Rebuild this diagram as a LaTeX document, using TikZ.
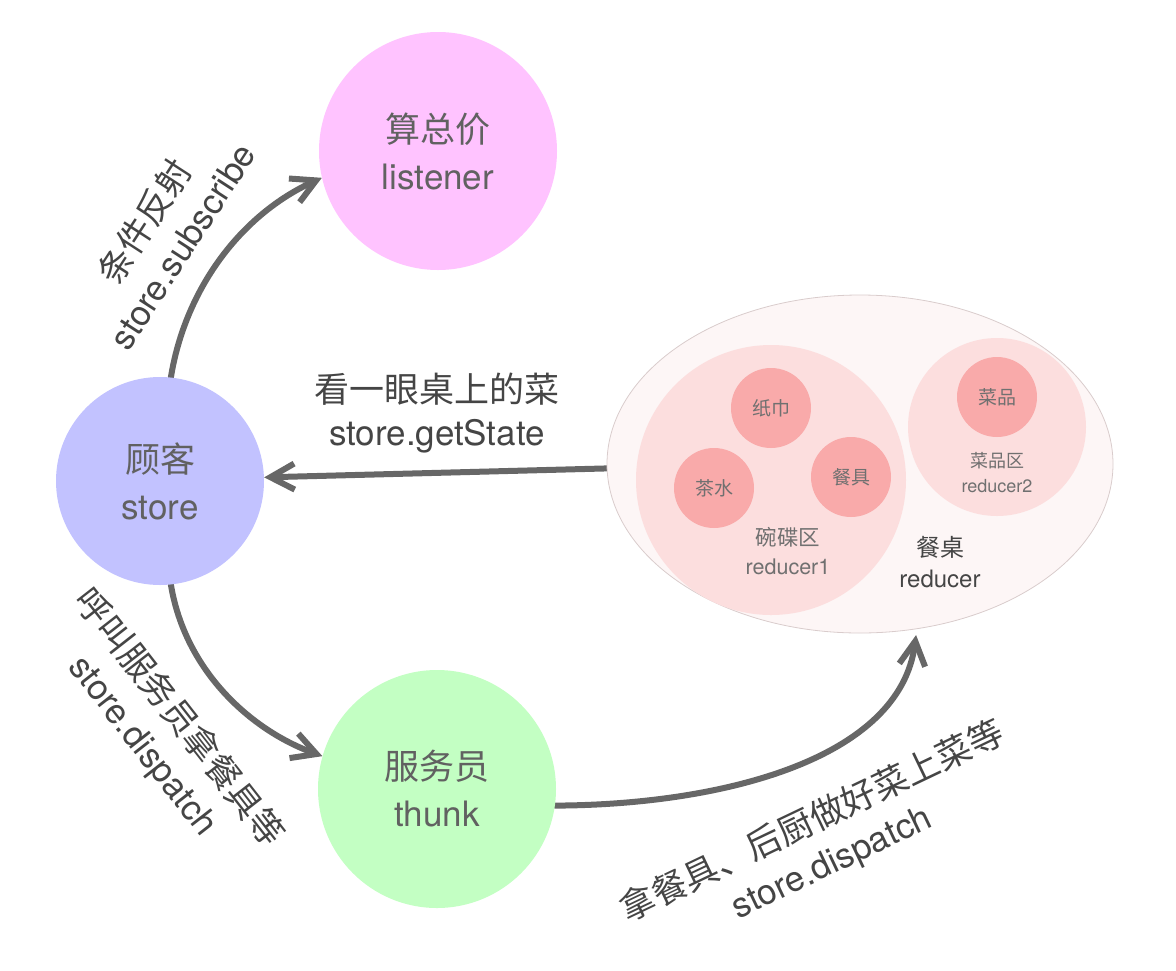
\documentclass[tikz,border=0pt]{standalone}
\usepackage{fontspec}
\setmainfont{TeX Gyre Heros}
\newfontfamily\cjk{Noto Sans CJK SC}
\usetikzlibrary{arrows.meta}
\usetikzlibrary{shapes.geometric}
\pgfdeclarelayer{edgelayer}
\pgfdeclarelayer{nodelayer}
\pgfsetlayers{edgelayer,nodelayer,main}
\definecolor{listenerfill}{HTML}{FFC3FF}
\definecolor{storefill}{HTML}{C2C2FF}
\definecolor{thunkfill}{HTML}{C3FFC3}
\definecolor{tablefill}{HTML}{FDF6F6}
\definecolor{tableline}{HTML}{D9CCCC}
\definecolor{zonefill}{HTML}{FCDEDE}
\definecolor{dishfill}{HTML}{F9AAAA}
\definecolor{roletext}{HTML}{616161}
\definecolor{labeltext}{HTML}{454545}
\definecolor{dishtext}{HTML}{707070}
\definecolor{arrowgray}{HTML}{676767}
\tikzstyle{role}=[circle,inner sep=0pt,minimum size=238pt,align=center,text=roletext,font=\fontsize{35}{47}\selectfont]
\tikzstyle{tablezone}=[ellipse,inner sep=0pt,minimum width=506pt,minimum height=338pt,fill=tablefill,draw=tableline,line width=0.8pt]
\tikzstyle{zone}=[circle,inner sep=0pt,fill=zonefill]
\tikzstyle{dish}=[circle,inner sep=0pt,minimum size=80pt,fill=dishfill,text=dishtext,font=\cjk\fontsize{19}{22}\selectfont]
\tikzstyle{zonename}=[align=center,text=dishtext]
\tikzstyle{caption}=[align=center,text=labeltext,font=\fontsize{35}{45}\selectfont]
\tikzstyle{transition}=[-{Straight Barb[length=24pt,width=26pt]},line width=6pt,draw=arrowgray,line cap=round]

\begin{document}
\begin{tikzpicture}[x=1pt,y=1pt]
	\useasboundingbox (0,0) rectangle (1176,-970);
	\begin{pgfonlayer}{nodelayer}
		\node [style=role, fill=listenerfill] (0) at (438, -151) {{\cjk 算总价}\\listener};
		\node [style=role, fill=storefill, minimum size=208pt] (1) at (160, -481) {{\cjk 顾客}\\store};
		\node [style=role, fill=thunkfill] (2) at (437, -789) {{\cjk 服务员}\\thunk};
		\node [style=tablezone] (3) at (860, -464) {};
		\node [style=zone, minimum size=270pt] (4) at (771, -480) {};
		\node [style=zone, minimum size=178pt] (5) at (997, -427) {};
		\node [style=dish] (6) at (771, -408) {纸巾};
		\node [style=dish] (7) at (714, -488) {茶水};
		\node [style=dish] (8) at (851, -477) {餐具};
		\node [style=dish] (9) at (997, -397) {菜品};
		\node [style=zonename, font=\fontsize{21.5}{29}\selectfont] (10) at (788, -551) {{\cjk 碗碟区}\\reducer1};
		\node [style=zonename, font=\fontsize{18}{25}\selectfont] (11) at (997, -473) {{\cjk 菜品区}\\reducer2};
		\node [style=zonename, text=labeltext, font=\fontsize{24}{31}\selectfont] (12) at (940, -562) {{\cjk 餐桌}\\reducer};
		\node [style=caption, rotate=57] (13) at (162, -233) {{\cjk 条件反射}\\store.subscribe};
		\node [style=caption, font=\fontsize{35}{43}\selectfont] (14) at (437, -413) {{\cjk 看一眼桌上的菜}\\store.getState};
		\node [style=caption, rotate=-52] (15) at (161, -732) {{\cjk 呼叫服务员拿餐具等}\\store.dispatch};
		\node [style=caption, rotate=25.5] (16) at (822, -842) {{\cjk 拿餐具、后厨做好菜上菜等}\\store.dispatch};
	\end{pgfonlayer}
	\begin{pgfonlayer}{edgelayer}
		\draw [style=transition] (1.84) .. controls (185, -290) and (240, -215) .. (0.193);
		\draw [style=transition] (3.181) to (1.2);
		\draw [style=transition] (1.276) .. controls (185, -670) and (250, -730) .. (2.164);
		\draw [style=transition, shorten >=6pt] (2.352) .. controls (720, -805) and (900, -760) .. (3.289);
	\end{pgfonlayer}
\end{tikzpicture}
\end{document}
